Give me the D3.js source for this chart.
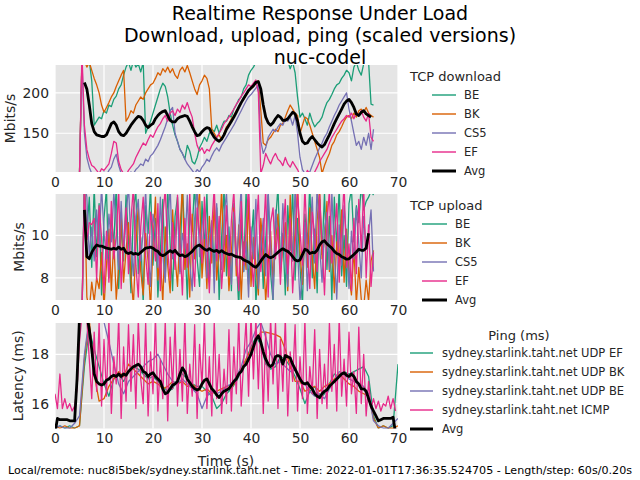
<!DOCTYPE html>
<html>
<head>
<meta charset="utf-8">
<script src="https://cdn.jsdelivr.net/npm/d3@7"></script>
<style>
     html, body { margin: 0; padding: 0; background: #fff; }
     svg { display: block; font-family: 'DejaVu Sans', sans-serif; }
</style>
</head>
<body>
<svg id="chart" width="640" height="480"></svg>
<script>
// ── Data ──────────────────────────────────────────────────
const xTicks = [0, 10, 20, 30, 40, 50, 60, 70];

// TCP download, Mbits/s, sampled every 0.5 s from t = 5.0
const dlStart = 5.0, dlStep = 0.5;
const dlBE = [100, 240, 245, 250, 240, 215, 160, 165, 170, 168,
     178, 175, 185, 183, 192, 196, 205, 210, 222, 232,
     238, 228, 240, 232, 236, 226, 238, 150, 158, 165,
     175, 185, 195, 205, 212, 208, 195, 175, 160, 148,
     140, 130, 125, 118, 135, 128, 115, 112, 120, 132,
     138, 145, 140, 150, 155, 152, 160, 150, 158, 165,
     165, 172, 170, 180, 185, 192, 195, 205, 210, 222,
     228, 232, 238, 240, 245, 238, 240, 236, 240, 242,
     238, 240, 235, 242, 236, 240, 230, 238, 225, 195,
     170, 175, 168, 160, 175, 165, 158, 162, 165, 170,
     180, 188, 192, 198, 205, 210, 212, 218, 222, 228,
     225, 215, 232, 238, 228, 222, 236, 240, 238, 186,
     185];
const dlBK = [100, 245, 240, 232, 238, 228, 218, 210, 200, 185,
     176, 182, 188, 195, 200, 208, 215, 222, 228, 165,
     170, 178, 175, 185, 190, 195, 192, 200, 205, 210,
     212, 218, 225, 222, 230, 226, 232, 225, 230, 222,
     218, 228, 232, 226, 234, 225, 215, 205, 198, 210,
     215, 222, 218, 205, 155, 150, 145, 148, 142, 150,
     158, 162, 168, 172, 178, 182, 188, 192, 198, 202,
     205, 208, 212, 215, 178, 138, 135, 142, 145, 150,
     155, 152, 160, 162, 170, 178, 185, 180, 175, 172,
     150, 160, 170, 168, 160, 150, 140, 130, 120, 100,
     110, 118, 125, 135, 140, 148, 152, 158, 165, 170,
     172, 168, 175, 170, 178, 180, 176, 182, 175, 172,
     170];
const dlCS5 = [100, 240, 150, 120, 108, 100, 95, 98, 96, 100,
     102, 98, 104, 108, 118, 124, 110, 100, 98, 100,
     98, 102, 100, 105, 108, 112, 110, 118, 115, 122,
     125, 130, 135, 142, 150, 158, 168, 178, 182, 150,
     140, 130, 125, 118, 112, 108, 104, 100, 105, 102,
     108, 112, 118, 115, 122, 128, 132, 128, 135, 140,
     145, 150, 155, 160, 166, 172, 178, 184, 190, 195,
     198, 202, 206, 210, 140, 125, 132, 145, 150, 155,
     152, 158, 162, 160, 168, 165, 170, 160, 172, 150,
     120, 105, 100, 98, 102, 110, 118, 125, 132, 138,
     145, 150, 158, 165, 172, 178, 185, 190, 195, 200,
     180, 165, 150, 135, 140, 130, 145, 135, 150, 130,
     155];
const dlEF = [100, 250, 160, 130, 118, 110, 108, 104, 100, 106,
     104, 108, 112, 125, 140, 138, 115, 105, 100, 98,
     104, 108, 112, 120, 126, 132, 138, 135, 142, 148,
     145, 152, 158, 162, 168, 172, 165, 175, 178, 172,
     180, 176, 185, 180, 188, 178, 170, 150, 135, 128,
     132, 125, 130, 128, 135, 140, 145, 150, 155, 162,
     166, 170, 175, 180, 186, 190, 196, 200, 205, 210,
     208, 212, 216, 200, 100, 110, 125, 118, 112, 120,
     125, 118, 115, 110, 120, 112, 108, 115, 110, 105,
     98, 100, 96, 104, 100, 98, 102, 108, 115, 120,
     125, 130, 138, 145, 150, 155, 160, 165, 168, 172,
     170, 175, 168, 176, 172, 178, 170, 165, 175, 145,
     140];
const dlAvgStart = 6.0;
const dlAvg = [213, 205, 185, 162, 152, 148, 147, 146,
     146, 148, 155, 162, 164, 160, 152, 148, 147, 150,
     155, 160, 164, 168, 171, 170, 166, 160, 157, 160,
     162, 168, 172, 175, 177, 178, 172, 166, 164, 164,
     168, 170, 171, 172, 171, 165, 158, 152, 147, 148,
     152, 155, 157, 156, 150, 145, 142, 140, 143, 148,
     155, 160, 165, 170, 176, 182, 188, 193, 198, 203,
     206, 209, 213, 214, 205, 185, 170, 163, 160, 163,
     168, 172, 170, 166, 166, 168, 172, 176, 174, 165,
     150, 140, 137, 138, 143, 146, 142, 138, 135, 133,
     136, 142, 148, 155, 162, 168, 174, 180, 186, 190,
     192, 188, 182, 174, 172, 176, 178, 174, 172, 170];

// TCP upload, Mbits/s, every 0.5 s from t = 5.5
const ulStart = 5.5, ulStep = 0.5;
const ulBE = [6.0, 12.5, 10.2, 11.8, 8.5, 12.3, 9.0, 11.5, 7.2, 10.8,
     12.2, 8.0, 11.0, 9.5, 12.4, 7.5, 10.5, 8.8, 11.9, 9.8,
     7.3, 11.2, 12.1, 8.2, 9.9, 6.8, 11.4, 10.1, 12.3, 8.6,
     10.8, 7.1, 9.2, 11.7, 8.0, 12.2, 9.6, 7.4, 10.9, 11.8,
     8.3, 12.4, 9.8, 7.0, 11.1, 10.2, 12.5, 8.9, 7.6, 11.6,
     9.4, 12.0, 7.8, 10.6, 8.4, 11.3, 6.9, 9.9, 12.2, 8.1,
     10.4, 7.4, 11.5, 9.0, 6.6, 10.7, 8.3, 12.1, 7.7, 9.5,
     11.2, 6.8, 8.9, 10.3, 7.5, 9.8, 11.9, 8.2, 6.9, 10.6,
     12.3, 8.7, 10.1, 7.2, 11.4, 9.3, 12.2, 7.9, 10.8, 8.5,
     6.7, 11.0, 9.6, 12.4, 8.0, 10.3, 7.3, 11.7, 9.1, 12.0,
     8.4, 10.9, 6.9, 11.8, 9.4, 12.3, 8.1, 10.0, 7.6, 11.5,
     12.2, 9.7, 11.4, 10.6, 12.4, 11.2, 11.6, 11.8, 12.1, 11.9];
const ulBK = [6.2, 12.4, 7.1, 6.5, 7.8, 6.9, 8.0, 7.5, 9.2, 6.6,
     8.6, 10.3, 7.4, 9.8, 7.0, 8.5, 11.1, 7.8, 9.3, 10.6,
     8.1, 6.7, 9.5, 11.4, 8.3, 7.2, 10.1, 8.8, 6.5, 9.7,
     11.8, 7.9, 9.1, 6.8, 10.4, 8.6, 7.3, 11.2, 9.0, 7.6,
     10.2, 12.3, 8.4, 9.6, 7.1, 11.0, 8.9, 10.7, 12.1, 8.0,
     9.8, 7.5, 10.9, 8.7, 11.6, 7.9, 9.4, 12.2, 8.3, 10.0,
     7.4, 9.2, 11.3, 8.1, 10.5, 7.0, 9.7, 8.4, 11.8, 7.6,
     9.9, 8.6, 7.2, 10.8, 9.3, 6.9, 8.7, 10.2, 7.8, 9.6,
     11.0, 8.2, 9.5, 10.6, 7.4, 11.9, 8.8, 10.1, 12.3, 9.2,
     7.7, 10.4, 8.5, 11.3, 9.0, 7.5, 10.7, 12.2, 8.9, 9.8,
     11.6, 8.3, 10.0, 7.3, 9.7, 8.6, 11.2, 7.8, 10.3, 8.1,
     7.2, 9.4, 6.8, 8.5, 7.0, 6.6, 7.9, 6.9, 8.8, 9.3];
const ulCS5 = [6.4, 12.6, 11.8, 9.0, 10.4, 8.8, 11.2, 9.5, 12.3, 10.1,
     8.9, 11.0, 9.7, 12.0, 10.5, 8.4, 11.6, 9.2, 10.8, 12.4,
     9.6, 8.1, 10.9, 11.7, 8.8, 10.2, 12.1, 9.3, 7.6, 11.0,
     10.3, 8.5, 11.8, 9.1, 7.8, 10.6, 12.3, 8.9, 9.9, 11.4,
     8.2, 10.1, 9.4, 11.9, 8.7, 7.4, 10.8, 12.2, 9.0, 10.5,
     11.3, 8.0, 9.8, 10.7, 7.3, 11.5, 9.2, 8.4, 10.9, 12.0,
     9.5, 7.7, 11.1, 8.6, 10.2, 12.3, 8.3, 9.7, 7.1, 10.4,
     8.9, 11.7, 7.5, 9.4, 10.8, 8.1, 12.1, 9.6, 7.0, 11.2,
     10.0, 8.5, 11.5, 9.1, 7.6, 10.7, 8.8, 12.2, 9.3, 6.9,
     8.2, 10.6, 7.4, 9.9, 11.8, 8.7, 12.4, 9.5, 7.8, 10.3,
     11.1, 8.4, 12.0, 9.2, 7.0, 10.5, 8.6, 11.4, 9.8, 7.5,
     10.2, 8.9, 11.3, 9.6, 8.0, 10.9, 9.4, 10.1, 11.2, 8.3];
const ulEF = [6.3, 12.2, 9.8, 10.6, 10.5, 10.8, 7.9, 11.4, 9.9, 7.3,
     10.2, 7.8, 11.6, 8.9, 10.0, 12.1, 7.5, 9.6, 11.3, 8.2,
     10.7, 12.3, 8.6, 7.1, 10.4, 11.8, 9.0, 7.7, 11.1, 10.3,
     8.8, 11.5, 7.4, 10.9, 12.2, 9.3, 7.9, 10.6, 8.4, 11.9,
     9.7, 7.2, 10.8, 8.5, 12.0, 9.1, 7.6, 11.3, 10.2, 8.7,
     11.8, 9.5, 7.3, 10.4, 12.3, 8.8, 10.9, 7.5, 9.3, 11.4,
     8.1, 10.7, 12.1, 9.0, 7.4, 11.6, 8.6, 10.3, 12.4, 9.2,
     7.6, 10.1, 11.9, 8.3, 9.7, 12.2, 7.1, 10.6, 11.3, 8.9,
     10.4, 7.7, 9.9, 11.7, 8.2, 10.8, 7.3, 9.5, 12.0, 10.2,
     8.6, 12.3, 9.4, 7.5, 11.1, 10.0, 8.3, 11.9, 9.7, 7.2,
     10.6, 12.1, 8.7, 9.9, 11.5, 7.8, 10.3, 12.4, 8.5, 9.6,
     7.4, 10.8, 8.2, 11.7, 9.3, 12.2, 8.0, 10.5, 7.6, 9.2];
const ulAvgStart = 6.0;
const ulAvg = [11.2, 9.0, 8.9, 9.2, 9.4, 9.55, 9.5,
     9.5, 9.45, 9.4, 9.38, 9.35, 9.4, 9.35, 9.45, 9.35, 9.4,
     9.2, 9.15, 9.2, 9.12, 9.15, 9.1, 9.2, 9.3, 9.4, 9.42,
     9.45, 9.4, 9.3, 9.25, 9.1, 9.05, 9.1, 9.2, 9.28, 9.2,
     9.3, 9.15, 9.05, 9.08, 9.0, 9.05, 9.15, 9.25, 9.4, 9.5,
     9.55, 9.45, 9.35, 9.3, 9.38, 9.3, 9.25, 9.3, 9.2, 9.28,
     9.2, 9.15, 9.1, 9.12, 9.05, 9.0, 8.98, 8.95, 8.85, 8.8,
     8.75, 8.65, 8.55, 8.5, 8.62, 8.8, 8.95, 9.1, 9.0, 8.95,
     9.0, 9.1, 9.2, 9.3, 9.37, 9.3, 9.25, 9.15, 9.0, 8.85,
     8.8, 8.85, 9.1, 9.35, 9.3, 9.15, 9.2, 9.18, 9.3, 9.55,
     9.7, 9.75, 9.6, 9.5, 9.4, 9.25, 9.15, 9.1, 9.0, 8.95,
     8.88, 8.9, 9.0, 9.1, 9.22, 9.35, 9.3, 9.3, 9.4, 10.1];

// Ping, ms. ICMP and average every 0.5 s from t = 0; UDP every 1 s from t = 0
const icmpStep = 0.5, udpStep = 1.0;
const pingICMP = [16.4, 15.8, 17.2, 15.8, 16.2, 15.8, 16.0, 15.7, 15.9, 16.6,
     18.5, 19.6, 19.5, 19.4, 17.8, 16.2, 18.9, 16.5, 19.3, 15.9,
     18.6, 16.3, 19.4, 15.6, 17.9, 16.8, 19.5, 15.4, 18.3, 16.1,
     19.2, 16.5, 18.8, 15.8, 19.4, 17.0, 16.0, 19.3, 15.5, 18.1,
     16.4, 19.5, 15.7, 17.8, 16.2, 19.4, 15.3, 18.7, 16.6, 19.3,
     15.9, 18.2, 16.1, 19.5, 15.6, 17.6, 16.3, 19.2, 15.4, 18.4,
     16.7, 19.4, 15.8, 17.9, 15.5, 19.3, 16.2, 18.0, 15.6, 17.4,
     16.0, 19.0, 15.7, 18.3, 16.4, 19.5, 15.9, 17.7, 19.4, 16.3,
     19.6, 17.0, 19.5, 16.6, 19.4, 15.6, 18.9, 16.1, 19.5, 16.8,
     19.3, 15.8, 18.6, 16.5, 19.5, 15.5, 18.1, 16.9, 19.2, 15.7,
     17.9, 16.2, 19.4, 15.6, 17.5, 16.4, 19.0, 15.4, 18.2, 16.0,
     17.6, 15.8, 19.3, 16.5, 18.4, 15.7, 19.5, 16.3, 17.8, 15.9,
     18.9, 16.4, 17.3, 15.6, 19.1, 16.0, 18.0, 15.5, 16.9, 15.8,
     16.2, 15.8, 16.1, 15.7, 16.0, 15.9, 16.3, 15.8, 16.2, 15.7];
const pingUdpEF = [15.0, 15.1, 15.0, 15.1, 15.0, 15.1, 17.5, 19.0, 18.2, 17.5,
     16.8, 16.3, 17.0, 17.2, 16.9, 17.3, 17.5, 17.4, 17.2, 17.0,
     17.1, 16.9, 16.7, 16.5, 16.6, 17.0, 17.2, 17.0, 16.8, 16.7,
     16.7, 16.5, 16.3, 15.8, 16.0, 16.4, 16.6, 16.9, 17.3, 17.8,
     18.3, 18.7, 18.4, 17.6, 17.4, 17.5, 17.9, 17.8, 17.5, 17.1,
     16.6, 16.0, 16.5, 16.7, 16.2, 16.4, 16.8, 17.2, 17.1, 17.3,
     17.2, 17.3, 17.4, 17.5, 17.1, 15.5, 15.0, 15.1, 15.0, 15.1,
     17.6];
const pingUdpBK = [15.1, 15.0, 15.1, 15.0, 15.0, 15.1, 17.8, 19.4, 17.2, 16.1,
     16.2, 16.7, 17.0, 17.3, 17.1, 17.6, 17.4, 17.2, 17.0, 16.8,
     16.9, 16.8, 16.6, 16.7, 16.9, 16.8, 16.9, 16.7, 16.8, 16.6,
     16.5, 16.6, 16.4, 16.5, 16.6, 16.7, 16.6, 17.0, 17.4, 17.8,
     18.2, 18.6, 18.9, 18.9, 18.85, 18.8, 18.7, 18.2, 17.5, 16.9,
     16.9, 16.5, 16.6, 16.7, 16.5, 16.7, 16.8, 17.0, 17.2, 17.0,
     16.8, 16.7, 16.5, 16.4, 16.3, 15.4, 15.0, 15.1, 15.0, 15.0,
     15.1];
const pingUdpBE = [15.0, 15.1, 15.0, 15.0, 15.2, 15.5, 18.0, 19.5, 19.5, 19.5,
     19.3, 18.5, 17.6, 16.8, 16.4, 16.9, 17.1, 17.3, 17.5, 17.7,
     17.8, 18.0, 17.6, 17.2, 16.9, 16.8, 17.0, 16.8, 16.6, 16.4,
     15.8, 16.3, 16.5, 16.4, 16.5, 16.7, 16.8, 17.1, 17.5, 18.2,
     18.5, 19.0, 19.3, 18.7, 18.0, 17.6, 17.7, 17.5, 17.3, 17.4,
     17.0, 16.8, 16.5, 16.3, 16.4, 16.2, 16.6, 16.9, 17.3, 17.2,
     17.0, 16.9, 16.8, 16.7, 16.4, 15.3, 15.1, 15.0, 15.0, 15.2,
     15.4];
const pingAvg = [14.8, 15.4, 15.35, 15.35, 15.35, 15.35, 15.3, 15.3, 15.3, 17.0,
     19.5, 19.6, 19.6, 19.6, 19.0, 18.2, 17.2, 16.9, 16.8, 16.75,
     16.8, 16.95, 17.0, 17.1, 17.15, 17.1, 17.2, 17.1, 17.2, 17.15,
     17.3, 17.4, 17.5, 17.55, 17.6, 17.5, 17.3, 17.25, 17.1, 17.2,
     17.25, 17.1, 17.0, 16.9, 16.6, 16.4, 16.45, 16.6, 16.75, 16.8,
     16.9, 17.2, 17.45, 17.3, 17.0, 16.85, 16.7, 16.6, 16.55, 16.6,
     16.8, 16.95, 17.0, 16.8, 16.6, 16.5, 16.35, 16.25, 16.4, 16.5,
     16.55, 16.6, 16.75, 16.9, 17.0, 17.2, 17.3, 17.5, 17.6, 17.8,
     18.0, 18.3, 18.6, 18.75, 18.5, 18.1, 17.8, 17.6, 17.5, 17.6,
     17.9, 17.95, 17.9, 17.6, 17.95, 17.9, 17.85, 17.6, 17.4, 17.2,
     17.0, 16.85, 16.8, 16.85, 16.7, 16.6, 16.4, 16.3, 16.25, 16.4,
     16.5, 16.55, 16.7, 16.8, 16.9, 17.0, 17.1, 17.2, 17.25, 17.15,
     17.1, 17.2, 17.1, 16.9, 16.8, 16.6, 16.6, 16.5, 16.2, 15.9,
     15.7, 15.5, 15.3, 15.35, 15.4, 15.4, 15.4, 15.4, 15.45, 14.8];

// ── Styling ───────────────────────────────────────────────
const COL = { BE: '#1b9e77', BK: '#d95f02', CS5: '#7570b3', EF: '#e7298a', avg: '#000000' };
const TXT = '#262626';
const PLOT_BG = '#e5e5e5';

const svg = d3.select('#chart');
const x = d3.scaleLinear().domain([0, 70]).range([55, 398]);

function pts(vals, t0, step) { return vals.map((v, i) => [t0 + i * step, v]); }

const panels = [
     {
          top: 65, bottom: 172, domain: [102, 234.6], yTicks: [150, 200],
          yLabel: 'Mbits/s', yLabelX: 10,
          lines: [
               { name: 'BE', color: COL.BE, data: pts(dlBE, dlStart, dlStep) },
               { name: 'BK', color: COL.BK, data: pts(dlBK, dlStart, dlStep) },
               { name: 'CS5', color: COL.CS5, data: pts(dlCS5, dlStart, dlStep) },
               { name: 'EF', color: COL.EF, data: pts(dlEF, dlStart, dlStep) },
               { name: 'Avg', color: COL.avg, avg: true, data: pts(dlAvg, dlAvgStart, dlStep) }
          ],
          legend: { title: 'TCP download', titleX: 410, titleAnchor: 'start', titleY: 81, x1: 432, x2: 456, textX: 464, y0: 95 }
     },
     {
          top: 194, bottom: 300, domain: [6.96, 11.95], yTicks: [8, 10],
          yLabel: 'Mbits/s', yLabelX: 19.5,
          lines: [
               { name: 'BE', color: COL.BE, data: pts(ulBE, ulStart, ulStep) },
               { name: 'BK', color: COL.BK, data: pts(ulBK, ulStart, ulStep) },
               { name: 'CS5', color: COL.CS5, data: pts(ulCS5, ulStart, ulStep) },
               { name: 'EF', color: COL.EF, data: pts(ulEF, ulStart, ulStep) },
               { name: 'Avg', color: COL.avg, avg: true, data: pts(ulAvg, ulAvgStart, ulStep) }
          ],
          legend: { title: 'TCP upload', titleX: 410, titleAnchor: 'start', titleY: 210, x1: 422, x2: 447, textX: 455, y0: 224 }
     },
     {
          top: 323, bottom: 428.5, domain: [14.99, 19.27], yTicks: [16, 18],
          yLabel: 'Latency (ms)', yLabelX: 18,
          lines: [
               { name: 'sydney.starlink.taht.net UDP EF', color: COL.BE, data: pts(pingUdpEF, 0, udpStep) },
               { name: 'sydney.starlink.taht.net UDP BK', color: COL.BK, data: pts(pingUdpBK, 0, udpStep) },
               { name: 'sydney.starlink.taht.net UDP BE', color: COL.CS5, data: pts(pingUdpBE, 0, udpStep) },
               { name: 'sydney.starlink.taht.net ICMP', color: COL.EF, data: pts(pingICMP, 0, icmpStep) },
               { name: 'Avg', color: COL.avg, avg: true, data: pts(pingAvg, 0, icmpStep) }
          ],
          legend: { title: 'Ping (ms)', titleX: 519, titleAnchor: 'middle', titleY: 340, x1: 410, x2: 433, textX: 442, y0: 353 }
     }
];

// ── Titles ────────────────────────────────────────────────
['Realtime Response Under Load', 'Download, upload, ping (scaled versions)', 'nuc-codel']
     .forEach((t, i) => {
          svg.append('text')
               .attr('x', 320).attr('y', 20 + i * 22)
               .attr('text-anchor', 'middle')
               .attr('font-size', '19px').attr('fill', '#000')
               .text(t);
     });

// ── Panels ────────────────────────────────────────────────
panels.forEach((p, idx) => {
     const y = d3.scaleLinear().domain(p.domain).range([p.bottom, p.top]);
     const w = x.range()[1] - x.range()[0], h = p.bottom - p.top;

     svg.append('clipPath').attr('id', 'clip' + idx)
          .append('rect').attr('x', x.range()[0]).attr('y', p.top).attr('width', w).attr('height', h);

     svg.append('rect')
          .attr('x', x.range()[0]).attr('y', p.top).attr('width', w).attr('height', h)
          .attr('fill', PLOT_BG);

     const grid = svg.append('g').attr('stroke', '#fff').attr('stroke-width', 1.2);
     grid.selectAll('.gx').data(xTicks).join('line')
          .attr('x1', d => x(d)).attr('x2', d => x(d))
          .attr('y1', p.top).attr('y2', p.bottom);
     grid.selectAll('.gy').data(p.yTicks).join('line')
          .attr('x1', x.range()[0]).attr('x2', x.range()[1])
          .attr('y1', d => y(d)).attr('y2', d => y(d));

     const line = d3.line().x(d => x(d[0])).y(d => y(d[1]));
     const g = svg.append('g').attr('clip-path', `url(#clip${idx})`);
     p.lines.forEach(s => {
          g.append('path')
               .attr('d', line(s.data))
               .attr('fill', 'none')
               .attr('stroke', s.color)
               .attr('stroke-width', s.avg ? 2.8 : 1.3)
               .attr('stroke-linejoin', 'round');
     });

     // axes
     const xa = svg.append('g').attr('transform', `translate(0,${p.bottom})`)
          .call(d3.axisBottom(x).tickValues(xTicks).tickFormat(d3.format('d')).tickSize(0).tickPadding(5));
     const ya = svg.append('g').attr('transform', `translate(${x.range()[0]},0)`)
          .call(d3.axisLeft(y).tickValues(p.yTicks).tickFormat(d3.format('d')).tickSize(0).tickPadding(6));
     [xa, ya].forEach(a => {
          a.select('.domain').remove();
          a.selectAll('text').attr('font-size', '13.9px').attr('fill', TXT)
               .attr('font-family', "'DejaVu Sans', sans-serif");
     });

     svg.append('text')
          .attr('transform', `translate(${p.yLabelX},${(p.top + p.bottom) / 2}) rotate(-90)`)
          .attr('text-anchor', 'middle').attr('dy', '0.35em')
          .attr('font-size', '13.9px').attr('fill', TXT)
          .text(p.yLabel);

     // legend
     const L = p.legend;
     svg.append('text')
          .attr('x', L.titleX).attr('y', L.titleY)
          .attr('text-anchor', L.titleAnchor)
          .attr('font-size', '13px').attr('fill', TXT)
          .text(L.title);
     p.lines.forEach((s, i) => {
          const ly = L.y0 + i * 19;
          svg.append('line')
               .attr('x1', L.x1).attr('x2', L.x2).attr('y1', ly).attr('y2', ly)
               .attr('stroke', s.color).attr('stroke-width', s.avg ? 3 : 1.4);
          svg.append('text')
               .attr('x', L.textX).attr('y', ly).attr('dy', '0.35em')
               .attr('font-size', '11.5px').attr('fill', TXT)
               .text(s.name);
     });
});

// ── Bottom labels ─────────────────────────────────────────
svg.append('text')
     .attr('x', 226).attr('y', 466)
     .attr('text-anchor', 'middle')
     .attr('font-size', '13.9px').attr('fill', TXT)
     .text('Time (s)');

svg.append('text')
     .attr('x', 8).attr('y', 474)
     .attr('font-size', '11px').attr('fill', '#000')
     .attr('textLength', 624).attr('lengthAdjust', 'spacingAndGlyphs')
     .text('Local/remote: nuc8i5bek/sydney.starlink.taht.net - Time: 2022-01-01T17:36:35.524705 - Length/step: 60s/0.20s');
</script>
</body>
</html>
